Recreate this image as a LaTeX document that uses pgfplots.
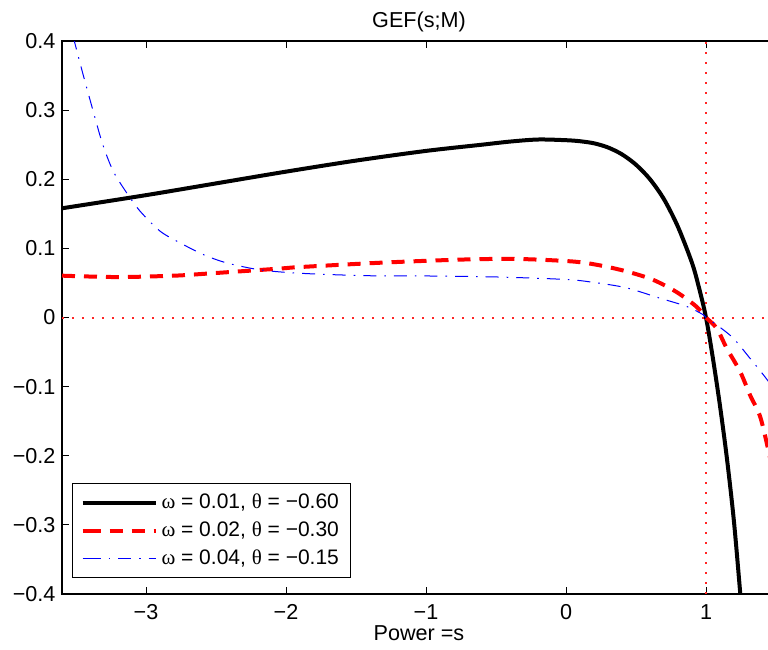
\documentclass[border=0pt]{standalone}
\usepackage{fontspec}
\setmainfont{Liberation Sans}
\newfontfamily\grk{Liberation Serif}
\usepackage{pgfplots}
\pgfplotsset{compat=1.18}
\newcommand\fs{\fontsize{10.8}{13}\selectfont}
\newcommand\lfs{\fontsize{10.5}{12.5}\selectfont}

\begin{document}
\fs
\begin{tikzpicture}
\begin{axis}[
  scale only axis,
  width=357pt, height=276.5pt,
  xmin=-3.6, xmax=1.5, ymin=-0.4, ymax=0.4,
  xtick={-3,-2,-1,0,1},
  xticklabels={−3,−2,−1,0,1},
  ytick={-0.4,-0.3,-0.2,-0.1,0,0.1,0.2,0.3,0.4},
  yticklabels={−0.4,−0.3,−0.2,−0.1,0,0.1,0.2,0.3,0.4},
  tick align=inside,
  major tick length=3.3pt,
  axis line style={line width=0.8pt},
  every tick/.style={black, line width=0.5pt},
  tick label style={font=\fs},
  xticklabel style={anchor=base, yshift=-13pt},
  yticklabel style={xshift=0.5pt},
  title={GEF(s;M)},
  title style={font=\fs, at={(0.5,1)}, anchor=base, yshift=0.8pt},
  xlabel={Power =s},
  xlabel style={font=\fs, at={(0.5,0)}, anchor=base, yshift=-23pt},
  legend cell align=left,
  legend style={font=\lfs, at={(0,0)}, anchor=south west, xshift=5pt, yshift=8pt,
    draw=black, line width=0.5pt, row sep=1pt, inner xsep=4pt, inner ysep=3pt},
  legend image code/.code={\path (0pt,0pt) -- (2.5pt,0pt);
    \draw[#1] (2.5pt,0pt) -- (36.5pt,0pt);},
]

% reference lines
\addplot[color=red!85, line width=1pt, line cap=butt, dash pattern=on 1pt off 4pt, forget plot]
  coordinates {(-3.6,0) (1.5,0)};
\addplot[color=red!85, line width=1pt, line cap=butt, dash pattern=on 1pt off 4pt, forget plot]
  coordinates {(1,-0.4) (1,0.4)};

% omega = 0.01
\addplot[black, line width=2pt, smooth] coordinates {
  (-3.6,0.158) (-3.0,0.177) (-2.5,0.194) (-2.0,0.211) (-1.5,0.227)
  (-1.0,0.241) (-0.6,0.250) (-0.4,0.2545) (-0.2,0.2575) (0.0,0.2565)
  (0.1,0.2550) (0.2,0.2520) (0.3,0.2460) (0.4,0.2360) (0.5,0.2210)
  (0.6,0.2000) (0.7,0.1710) (0.8,0.1310) (0.9,0.0790) (0.95,0.0430)
  (1.0,0.0) (1.05,-0.060) (1.1,-0.128) (1.15,-0.205) (1.2,-0.296)
  (1.25,-0.412) (1.27,-0.46)
};
\addlegendentry{{\grk ω} = 0.01, {\grk θ} = −0.60}

% omega = 0.02
\addplot[red, line width=2pt, dash pattern=on 6.5pt off 4.5pt, smooth] coordinates {
  (-3.6,0.0605) (-3.2,0.0585) (-2.8,0.0605) (-2.57,0.0634) (-2.05,0.0707)
  (-1.9,0.073) (-1.31,0.0794) (-0.71,0.084) (-0.33,0.0846) (0.05,0.081)
  (0.24,0.0755) (0.43,0.0668) (0.62,0.0547) (0.79,0.0368) (0.93,0.016)
  (1.0,0.0) (1.076,-0.0155) (1.148,-0.0445) (1.243,-0.078) (1.314,-0.112)
  (1.386,-0.143) (1.443,-0.19) (1.5,-0.245)
};
\addlegendentry{{\grk ω} = 0.02, {\grk θ} = −0.30}

% omega = 0.04
\addplot[blue, line width=0.5pt, dash pattern=on 6.5pt off 4pt on 0.8pt off 4pt, smooth] coordinates {
  (-3.52,0.406) (-3.507,0.396) (-3.45,0.352) (-3.378,0.299) (-3.31,0.251)
  (-3.235,0.212) (-3.14,0.181) (-3.043,0.154) (-2.9,0.125) (-2.757,0.108)
  (-2.59,0.091) (-2.424,0.079) (-2.186,0.069) (-1.9,0.064) (-1.424,0.0605)
  (-0.95,0.06) (-0.47,0.0585) (0.0,0.055) (0.19,0.051) (0.43,0.043)
  (0.67,0.028) (0.862,0.016) (0.98,0.004) (1.0,0.0) (1.076,-0.0106)
  (1.195,-0.03) (1.314,-0.059) (1.41,-0.083) (1.5,-0.107)
};
\addlegendentry{{\grk ω} = 0.04, {\grk θ} = −0.15}

\end{axis}
\pgfresetboundingbox
\path[use as bounding box] ([xshift=-31pt,yshift=-28pt]current axis.south west)
  rectangle ([xshift=-4pt,yshift=20.5pt]current axis.north east);
\end{tikzpicture}
\end{document}
